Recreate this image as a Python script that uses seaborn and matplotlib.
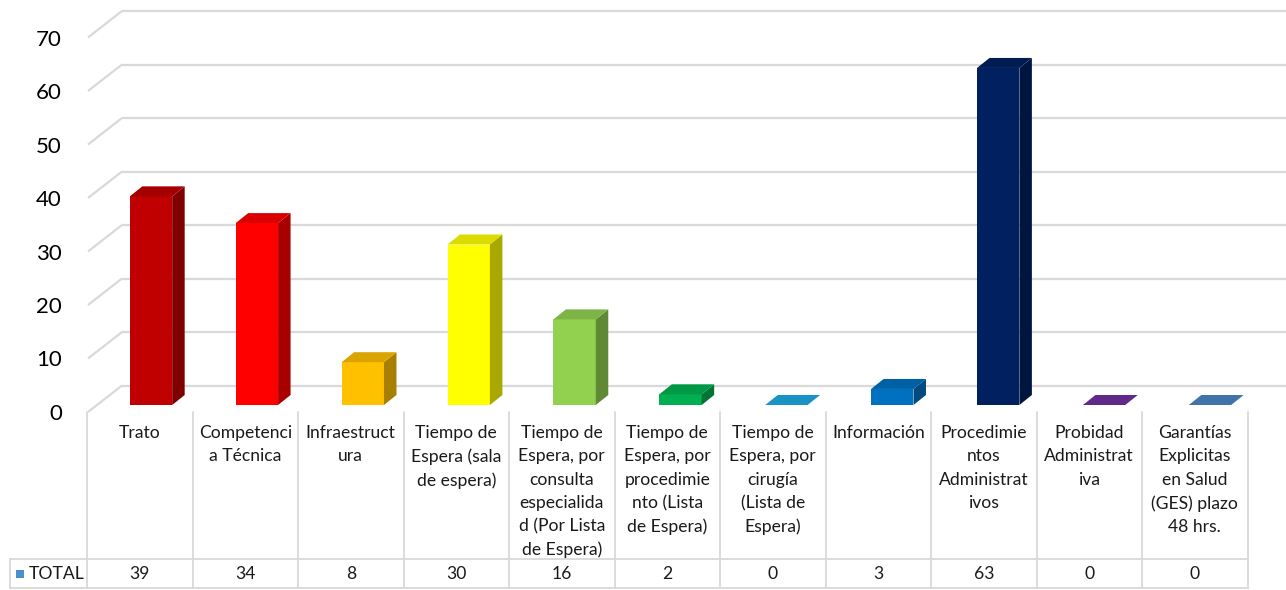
import matplotlib
matplotlib.use("Agg")
import matplotlib.pyplot as plt
import matplotlib.transforms as mtransforms
from matplotlib.colors import to_rgb
from matplotlib.patches import Polygon, Rectangle
import pandas as pd
import seaborn as sns

# ---- data -------------------------------------------------------------
categories = [
    "Trato", "Competencia Técnica", "Infraestructura",
    "Tiempo de Espera (sala de espera)",
    "Tiempo de Espera, por consulta especialidad (Por Lista de Espera)",
    "Tiempo de Espera, por procedimiento (Lista de Espera)",
    "Tiempo de Espera, por cirugía (Lista de Espera)",
    "Información", "Procedimientos Administrativos",
    "Probidad Administrativa",
    "Garantías Explicitas en Salud (GES) plazo 48 hrs.",
]
table_labels = [
    "Trato",
    "Competenci\na Técnica",
    "Infraestruct\nura",
    "Tiempo de\nEspera (sala\nde espera)",
    "Tiempo de\nEspera, por\nconsulta\nespecialida\nd (Por Lista\nde Espera)",
    "Tiempo de\nEspera, por\nprocedimie\nnto (Lista\nde Espera)",
    "Tiempo de\nEspera, por\ncirugía\n(Lista de\nEspera)",
    "Información",
    "Procedimie\nntos\nAdministrat\nivos",
    "Probidad\nAdministrat\niva",
    "Garantías\nExplicitas\nen Salud\n(GES) plazo\n48 hrs.",
]
totals = [39, 34, 8, 30, 16, 2, 0, 3, 63, 0, 0]
series_name = "TOTAL"
bar_colors = [
    "#C00000", "#FF0000", "#FFC000", "#FFFF00", "#92D050", "#00B050",
    "#1DAAE6", "#0070C0", "#002060", "#7030A0", "#4A86C4",
]
y_ticks = [0, 10, 20, 30, 40, 50, 60, 70]

df = pd.DataFrame({"categoria": categories, "total": totals})

# ---- style ------------------------------------------------------------
sns.set_theme(style="white")
plt.rcParams["font.family"] = ["Lato", "DejaVu Sans"]

W, H = 1286, 590
fig = plt.figure(figsize=(W / 100, H / 100), dpi=100)
fig.patch.set_facecolor("white")

# Chart axes: one category step = 105.9 px, one unit = 5.35 px,
# zero line 405 px from the top of the figure.
step_px, unit_px, zero_px, first_px = 105.9, 5.35, 405.0, 151.0
left_px = first_px - 0.5 * step_px
ax = fig.add_axes([left_px / W, 0, 11 * step_px / W, 1])
ax.set_ylim(-(H - zero_px) / unit_px, zero_px / unit_px)

palette = dict(zip(categories, bar_colors))
sns.barplot(data=df, x="categoria", y="total", hue="categoria",
            palette=palette, width=0.4, saturation=1, legend=False,
            ax=ax, zorder=3)
ax.set_xlim(-0.5, 10.5)
ax.axis("off")

grid_col = "#D9D9D9"
# 3-D walls: front floor edge and back wall offsets (in data units)
front_dx, front_dy = (88 - first_px) / step_px, -7 / unit_px
back_dx, back_dy = (122 - first_px) / step_px, 19.5 / unit_px
right_x = (W - first_px) / step_px
for v in y_ticks:
    ax.plot([front_dx, back_dx], [v + front_dy, v + back_dy],
            color=grid_col, lw=1.6, zorder=1, clip_on=False,
            solid_capstyle="butt")
    ax.plot([back_dx, right_x], [v + back_dy, v + back_dy],
            color=grid_col, lw=1.6, zorder=1, clip_on=False,
            solid_capstyle="butt")
    lab_tr = mtransforms.offset_copy(ax.transData, fig=fig, x=-26, y=-2,
                                     units="dots")
    ax.text(front_dx, v + front_dy, f"{v}", transform=lab_tr,
            ha="right", va="center", fontsize=16, color="#000000")

# depth faces for each column
depth_x, depth_y = 12.5 / step_px, 10 / unit_px


def shade(c, f):
    r, g, b = to_rgb(c)
    return (r * f, g * f, b * f)


for p in ax.patches:
    x0, w, h = p.get_x(), p.get_width(), p.get_height()
    base = p.get_facecolor()
    p.set_edgecolor("none")
    top = Polygon([(x0, h), (x0 + w, h), (x0 + w + depth_x, h + depth_y),
                   (x0 + depth_x, h + depth_y)], closed=True,
                  facecolor=shade(base, 0.86), edgecolor="none", zorder=3)
    side = Polygon([(x0 + w, 0), (x0 + w + depth_x, depth_y),
                    (x0 + w + depth_x, h + depth_y), (x0 + w, h)],
                   closed=True, facecolor=shade(base, 0.66),
                   edgecolor="none", zorder=3)
    ax.add_patch(side)
    ax.add_patch(top)

# ---- data table (pixel rows 405..590) ---------------------------------
tab_left, tab_step = 87.0, 105.5
tab = fig.add_axes([tab_left / W, 0, 11 * tab_step / W, (H - 405) / H])
tab.set_xlim(-0.5, 10.5)
tab.set_ylim(590, 405)
tab.axis("off")

line_kw = dict(color=grid_col, lw=1.3, clip_on=False, zorder=1)
cell0 = (10 - tab_left) / tab_step - 0.5
row_top, row_mid, row_bot = 412, 559, 588
for i in range(len(categories) + 1):
    tab.plot([i - 0.5, i - 0.5], [row_top, row_bot], **line_kw)
tab.plot([cell0, 10.5], [row_mid, row_mid], **line_kw)
tab.plot([cell0, 10.5], [row_bot, row_bot], **line_kw)
tab.plot([cell0, cell0], [row_mid, row_bot], **line_kw)

txt_kw = dict(fontsize=12.6, color="#1a1a1a")
for i, (lab, val) in enumerate(zip(table_labels, totals)):
    tab.text(i, 425, lab, ha="center", va="top", multialignment="center",
             linespacing=1.56, **txt_kw)
    tab.text(i, 574, f"{val}", ha="center", va="center", **txt_kw)

key_w = 8 / tab_step
key_x = (16 - tab_left) / tab_step - 0.5
tab.add_patch(Rectangle((key_x, 570), key_w, 8, facecolor="#4A90D0",
                        edgecolor="none", clip_on=False))
tab.text((29 - tab_left) / tab_step - 0.5, 574, series_name, ha="left",
         va="center", **txt_kw)

fig.savefig("out.png", dpi=100, facecolor="white")
